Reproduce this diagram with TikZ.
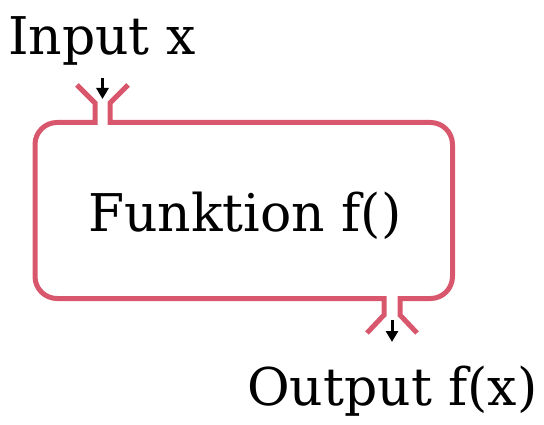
\documentclass[tikz,border=0pt]{standalone}
\usepackage{fontspec}
\setmainfont{DejaVu Serif}
\usetikzlibrary{arrows.meta}
\definecolor{boxred}{HTML}{D9576C}
\tikzset{
  lbl/.style={anchor=base west, inner sep=0pt, font=\fontsize{52}{60}\selectfont},
  boxline/.style={draw=boxred, line width=5pt, line join=miter},
  flow/.style={-{Triangle[width=12pt,length=11pt]}, line width=3pt, black}
}
\begin{document}
\begin{tikzpicture}[x=1pt,y=-1pt]
\useasboundingbox (0,0) rectangle (544,425);
% box outline with gaps
\draw[boxline] (77,85) -- (95,103) -- (95,122.5) -- (57,122.5)
  arc[start angle=270,end angle=180,radius=22] -- (35,276.5)
  arc[start angle=180,end angle=90,radius=22] -- (384,298.5) -- (384,315) -- (367,333);
\draw[boxline] (417,333) -- (400,315) -- (400,298.5) -- (430.5,298.5)
  arc[start angle=90,end angle=0,radius=22] -- (452.5,144.5)
  arc[start angle=360,end angle=270,radius=22] -- (110,122.5) -- (110,103) -- (128,85);
\node[lbl] (in) at (8,55) {Input x};
\node[lbl] (fn) at (88,232) {Funktion f()};
\node[lbl] (out) at (247,405) {Output f(x)};
\coordinate (inA) at (102.5,78);
\coordinate (inB) at (102.5,99);
\coordinate (outA) at (392,320);
\coordinate (outB) at (392,342);
\draw[flow] (inA) -- (inB);
\draw[flow] (outA) -- (outB);
\end{tikzpicture}
\end{document}
